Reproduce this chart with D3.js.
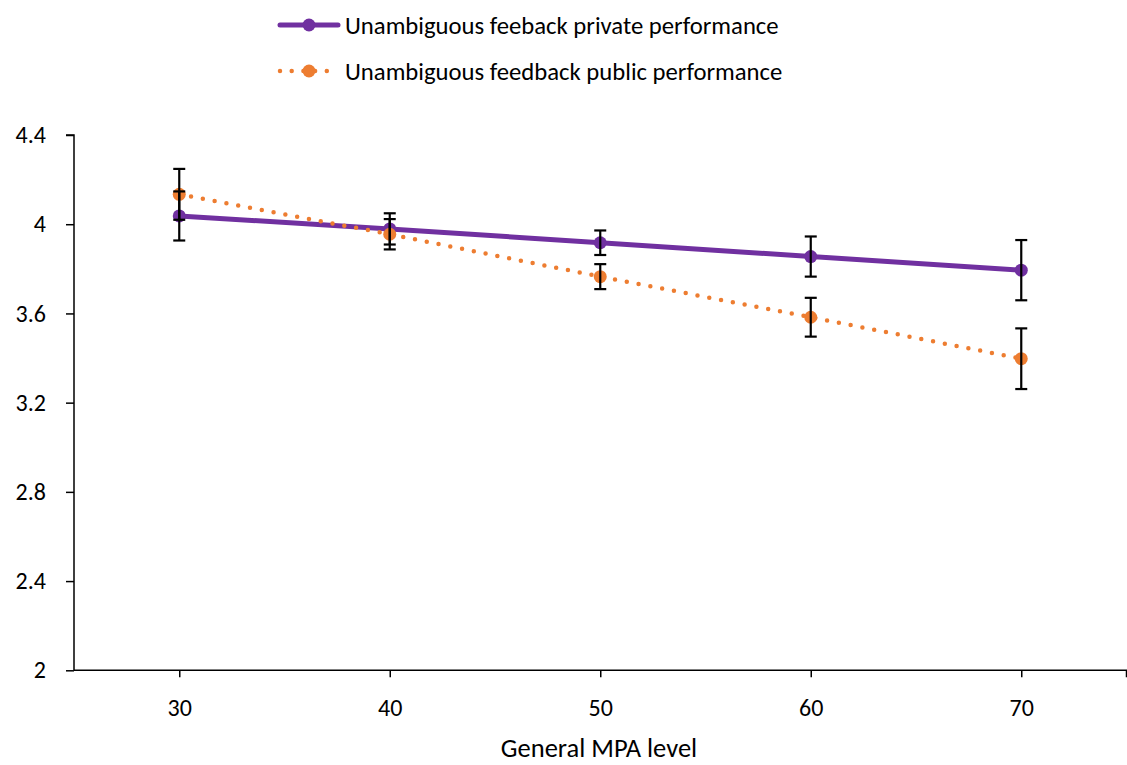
<!DOCTYPE html>
<html>
<head>
<meta charset="utf-8">
<script src="https://cdn.jsdelivr.net/npm/d3@7"></script>
<style>
  html, body { margin: 0; padding: 0; background: #fff; }
  svg { display: block; font-family: Calibri, Carlito, Lato, "Open Sans", sans-serif; }
</style>
</head>
<body>
<svg id="chart" width="1127" height="765"></svg>
<script>
// MPA levels on the x axis
const mpaLevels = [30, 40, 50, 60, 70];

// Mean performance per level, with the half-width of each error bar
const privateMeans = [4.037, 3.979, 3.917, 3.855, 3.794];
const privateErrors = [0.11, 0.07, 0.055, 0.09, 0.135];
const publicMeans = [4.134, 3.955, 3.765, 3.583, 3.397];
const publicErrors = [0.114, 0.068, 0.056, 0.087, 0.136];

const yTickValues = [2, 2.4, 2.8, 3.2, 3.6, 4, 4.4];
const yTickLabels = ["2", "2.4", "2.8", "3.2", "3.6", "4", "4.4"];

const seriesNames = [
  "Unambiguous feeback private performance",
  "Unambiguous feedback public performance"
];
const xTitle = "General MPA level";

const purple = "#7030A0";
const orange = "#ED7D31";
const fontStack = "Calibri, Carlito, Lato, sans-serif";

const svg = d3.select("#chart");

const x = d3.scaleLinear().domain([25, 75]).range([74, 1126.5]);
const y = d3.scaleLinear().domain([2, 4.4]).range([670.3, 135]);

const series = [
  { name: seriesNames[0], means: privateMeans, errs: privateErrors, color: purple, dash: null },
  { name: seriesNames[1], means: publicMeans, errs: publicErrors, color: orange, dash: "0 12" }
];

// Y axis
const yAxis = d3.axisLeft(y)
  .tickValues(yTickValues)
  .tickFormat((d, i) => yTickLabels[i])
  .tickSize(8)
  .tickPadding(20);
const gy = svg.append("g").attr("transform", "translate(74,0)").call(yAxis);
gy.select(".domain").attr("stroke", "#000").attr("stroke-width", 1.5).attr("d", `M-8,${y(4.4)}H0V${y(2)}`);
gy.selectAll(".tick line").attr("stroke", "#000").attr("stroke-width", 1.5);
gy.selectAll(".tick text").attr("font-size", 24).attr("fill", "#000")
  .attr("font-family", fontStack);

// X axis
const xAxis = d3.axisBottom(x)
  .tickValues(mpaLevels)
  .tickFormat(d3.format("d"))
  .tickSize(7)
  .tickPadding(22);
const gx = svg.append("g").attr("transform", `translate(0,${y(2)})`).call(xAxis);
gx.select(".domain").attr("stroke", "#000").attr("stroke-width", 1.5).attr("d", `M${x(25)},0H${x(75)}V7`);
gx.selectAll(".tick line").attr("stroke", "#000").attr("stroke-width", 1.5);
gx.selectAll(".tick text").attr("font-size", 24).attr("fill", "#000")
  .attr("font-family", fontStack);

svg.append("text")
  .attr("x", 599).attr("y", 757)
  .attr("text-anchor", "middle")
  .attr("font-size", 26.5)
  .attr("fill", "#000")
  .text(xTitle);

// Lines
const line = d3.line().x((d, i) => x(mpaLevels[i])).y(d => y(d));
series.forEach(s => {
  svg.append("path")
    .datum(s.means)
    .attr("d", line)
    .attr("fill", "none")
    .attr("stroke", s.color)
    .attr("stroke-width", s.dash ? 4.5 : 5)
    .attr("stroke-linecap", "round")
    .attr("stroke-dasharray", s.dash);
});

// Markers
series.forEach(s => {
  svg.append("g").selectAll("circle")
    .data(s.means)
    .join("circle")
    .attr("cx", (d, i) => x(mpaLevels[i]))
    .attr("cy", d => y(d))
    .attr("r", 6.5)
    .attr("fill", s.color);
});

// Error bars drawn on top
series.forEach(s => {
  const g = svg.append("g").attr("stroke", "#000").attr("stroke-width", 2.2);
  s.means.forEach((m, i) => {
    const cx = x(mpaLevels[i]);
    const top = y(m + s.errs[i]);
    const bot = y(m - s.errs[i]);
    g.append("line").attr("x1", cx).attr("x2", cx).attr("y1", top).attr("y2", bot);
    g.append("line").attr("x1", cx - 6).attr("x2", cx + 6).attr("y1", top).attr("y2", top);
    g.append("line").attr("x1", cx - 6).attr("x2", cx + 6).attr("y1", bot).attr("y2", bot);
  });
});

// Legend
const legendRows = [25, 71];
series.forEach((s, i) => {
  const ly = legendRows[i];
  const lg = svg.append("g");
  lg.append("line")
    .attr("x1", 280).attr("x2", 338).attr("y1", ly).attr("y2", ly)
    .attr("stroke", s.color)
    .attr("stroke-width", s.dash ? 4.5 : 5)
    .attr("stroke-linecap", "round")
    .attr("stroke-dasharray", s.dash ? "0 11.7" : null);
  lg.append("circle").attr("cx", 309).attr("cy", ly).attr("r", 6.5).attr("fill", s.color);
  lg.append("text")
    .attr("x", 345).attr("y", ly)
    .attr("dy", "0.35em")
    .attr("font-size", 24.7)
    .attr("fill", "#000")
    .text(s.name);
});
</script>
</body>
</html>
